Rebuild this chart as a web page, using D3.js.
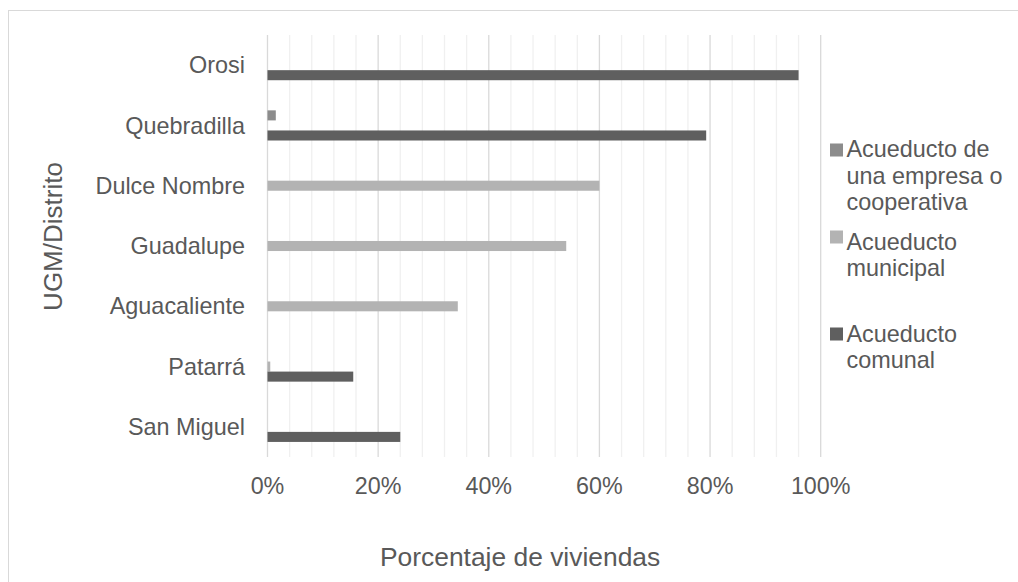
<!DOCTYPE html>
<html>
<head>
<meta charset="utf-8">
<script src="https://cdn.jsdelivr.net/npm/d3@7"></script>
<style>
  html, body { margin: 0; padding: 0; background: #fff; }
  text { font-family: "Liberation Sans", Arial, sans-serif; fill: #595959; }
</style>
</head>
<body>
<svg id="chart" width="1018" height="582"></svg>
<script>
const categories = ["Orosi", "Quebradilla", "Dulce Nombre", "Guadalupe", "Aguacaliente", "Patarrá", "San Miguel"];
const seriesNames = ["Acueducto de una empresa o cooperativa", "Acueducto municipal", "Acueducto comunal"];
const empresa   = [0, 1.5, 0, 0, 0, 0, 0];
const municipal = [0, 0, 60, 54, 34.4, 0.5, 0];
const comunal   = [96, 79.3, 0, 0, 0, 15.5, 24];
const seriesValues = [empresa, municipal, comunal];
const seriesColors = ["#8c8c8c", "#b3b3b3", "#5f5f5f"];
const legendLines = [["Acueducto de", "una empresa o", "cooperativa"], ["Acueducto", "municipal"], ["Acueducto", "comunal"]];
const tickValues = [0, 20, 40, 60, 80, 100];
const xTitle = "Porcentaje de viviendas";
const yTitle = "UGM/Distrito";

const svg = d3.select("#chart");

// outer chart border
svg.append("rect").attr("x", 8.5).attr("y", 10.5).attr("width", 1030).attr("height", 600)
  .attr("fill", "none").attr("stroke", "#d9d9d9").attr("stroke-width", 1);

const plot = { left: 267.5, right: 820.7, top: 35, bottom: 457 };
const x = d3.scaleLinear().domain([0, 100]).range([plot.left, plot.right]);
const y0 = d3.scaleBand().domain(categories).range([plot.top, plot.bottom]).paddingInner(0.5).paddingOuter(0.25);
const y1 = d3.scaleBand().domain(seriesNames).range([0, y0.bandwidth()]);

// minor gridlines every 4%
const minor = d3.range(0, 101, 4).filter(v => v % 20 !== 0);
svg.append("g").selectAll("line").data(minor).join("line")
  .attr("x1", d => x(d)).attr("x2", d => x(d))
  .attr("y1", plot.top).attr("y2", plot.bottom)
  .attr("stroke", "#f0f0f0").attr("stroke-width", 1.3);
// major gridlines
svg.append("g").selectAll("line").data(tickValues).join("line")
  .attr("x1", d => x(d)).attr("x2", d => x(d))
  .attr("y1", plot.top).attr("y2", plot.bottom)
  .attr("stroke", "#d9d9d9").attr("stroke-width", 1.3);

// bars
const groups = svg.append("g").selectAll("g").data(categories).join("g")
  .attr("transform", d => `translate(0,${y0(d)})`);
groups.selectAll("rect")
  .data((c, i) => seriesNames.map((s, k) => ({ s, k, v: seriesValues[k][i] })).filter(d => d.v > 0))
  .join("rect")
  .attr("x", x(0))
  .attr("y", d => y1(d.s))
  .attr("width", d => x(d.v) - x(0))
  .attr("height", y1.bandwidth())
  .attr("fill", d => seriesColors[d.k]);

// category labels
svg.append("g").selectAll("text").data(categories).join("text")
  .attr("x", 245)
  .attr("y", d => y0(d) + y0.bandwidth() / 2)
  .attr("dy", "0.35em")
  .attr("text-anchor", "end")
  .attr("font-size", "23.4px")
  .text(d => d);

// tick labels
svg.append("g").selectAll("text").data(tickValues).join("text")
  .attr("x", d => x(d))
  .attr("y", 494)
  .attr("text-anchor", "middle")
  .attr("font-size", "23.3px")
  .text(d => d + "%");

// axis titles
svg.append("text").attr("x", (plot.left + plot.right) / 2 - 24).attr("y", 566)
  .attr("text-anchor", "middle").attr("font-size", "26.4px").text(xTitle);
svg.append("text").attr("transform", "translate(61.5,236.5) rotate(-90)")
  .attr("text-anchor", "middle").attr("font-size", "26px").text(yTitle);

// legend
const legendMarkerY = [150, 237, 334];
const legendBaselines = [[157, 184, 210], [250, 276], [342, 368]];
const lg = svg.append("g");
seriesNames.forEach((s, k) => {
  lg.append("rect").attr("x", 830).attr("y", legendMarkerY[k] - 6.5)
    .attr("width", 13).attr("height", 13).attr("fill", seriesColors[k]);
  legendLines[k].forEach((ln, j) => {
    lg.append("text").attr("x", 846.5).attr("y", legendBaselines[k][j])
      .attr("font-size", "23.4px").text(ln);
  });
});
</script>
</body>
</html>
